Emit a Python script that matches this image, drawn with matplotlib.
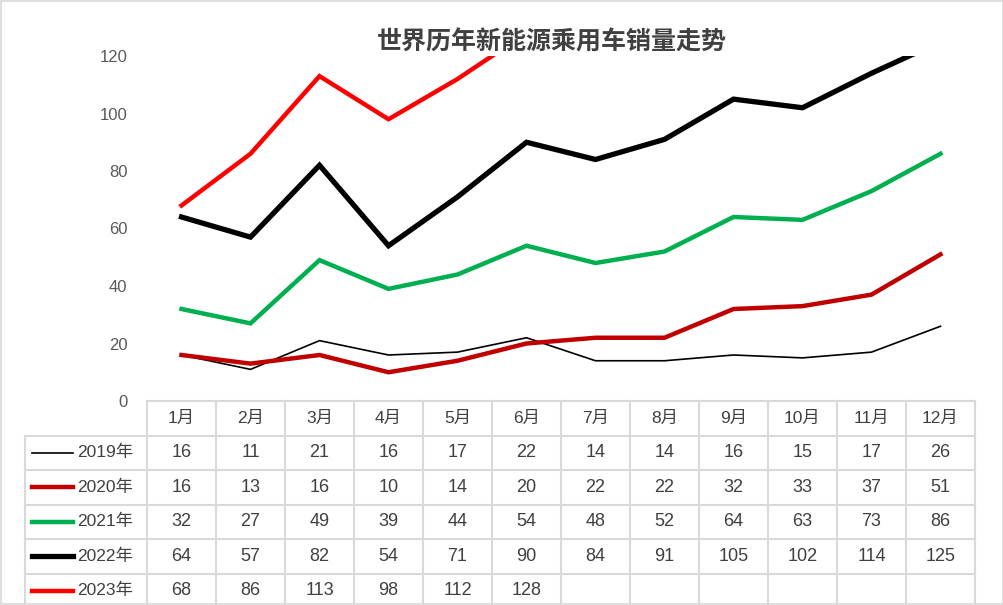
import matplotlib
matplotlib.use("Agg")
import matplotlib.pyplot as plt
from matplotlib.transforms import blended_transform_factory as btf
from matplotlib.patches import Rectangle

plt.rcParams['font.family'] = ['Liberation Sans', 'Noto Sans CJK SC', 'DejaVu Sans']

months = ["1月","2月","3月","4月","5月","6月","7月","8月","9月","10月","11月","12月"]
series_names = ["2019年","2020年","2021年","2022年","2023年"]
v2019 = [16,11,21,16,17,22,14,14,16,15,17,26]
v2020 = [16,13,16,10,14,20,22,22,32,33,37,51]
v2021 = [32,27,49,39,44,54,48,52,64,63,73,86]
v2022 = [64,57,82,54,71,90,84,91,105,102,114,125]
v2023 = [68,86,113,98,112,128]
values = [v2019, v2020, v2021, v2022, v2023]
colors = ["#000000","#C00000","#00B050","#000000","#FF0000"]
widths = [1.2, 3.2, 3.2, 3.8, 3.2]

W, H = 1004, 605
fig = plt.figure(figsize=(W/100, H/100), dpi=100)
fig.patches.append(Rectangle((0.001, 0.001), 0.998, 0.998, transform=fig.transFigure,
                             fill=False, edgecolor='#d9d9d9', lw=1.2))
ax = fig.add_axes([147/W, (H-401)/H, (975-147)/W, (401-56)/H])
for vals, c, lw in zip(values, colors, widths):
    ax.plot(range(len(vals)), vals, color=c, lw=lw, solid_joinstyle='miter', clip_on=True)
ax.set_xlim(-0.5, 11.5)
ax.set_ylim(0, 120)
ax.set_yticks(range(0, 121, 20))
ax.tick_params(axis='y', length=0, labelsize=12, colors='#595959', pad=14)
ax.set_xticks([])
for s in ax.spines.values():
    s.set_visible(False)
ax.axhline(0, color='#d9d9d9', lw=1.5, clip_on=False)

tr = btf(ax.transData, ax.transAxes)
rh = 34.5/345
xl = -0.5 - (147-25)/69
gc = '#d9d9d9'
nrows = 6
for r in range(1, nrows+1):
    ax.plot([xl, 11.5], [-rh*r]*2, color=gc, lw=1.5, transform=tr, clip_on=False)
for i in range(13):
    ax.plot([i-0.5]*2, [0, -rh*nrows], color=gc, lw=1.5, transform=tr, clip_on=False)
ax.plot([xl]*2, [-rh, -rh*nrows], color=gc, lw=1.5, transform=tr, clip_on=False)

for i, m in enumerate(months):
    ax.text(i, -rh*0.5, m, transform=tr, ha='center', va='center', fontsize=12.5, color='#404040')
for r, (name, vals, c, lw) in enumerate(zip(series_names, values, colors, widths)):
    yc = -rh*(r+1.5)
    ax.plot([xl+0.1, xl+0.7], [yc]*2, color=c, lw=lw, transform=tr, clip_on=False)
    ax.text(xl+0.75, yc, name, transform=tr, ha='left', va='center', fontsize=12.5, color='#404040')
    for i, v in enumerate(vals):
        ax.text(i, yc, str(v), transform=tr, ha='center', va='center', fontsize=13, color='#404040')

fig.text(552/W, 1-42/H, "世界历年新能源乘用车销量走势", ha='center', va='center',
         fontsize=18, fontweight='bold', color='#404040')
fig.savefig("out.png", dpi=100)
